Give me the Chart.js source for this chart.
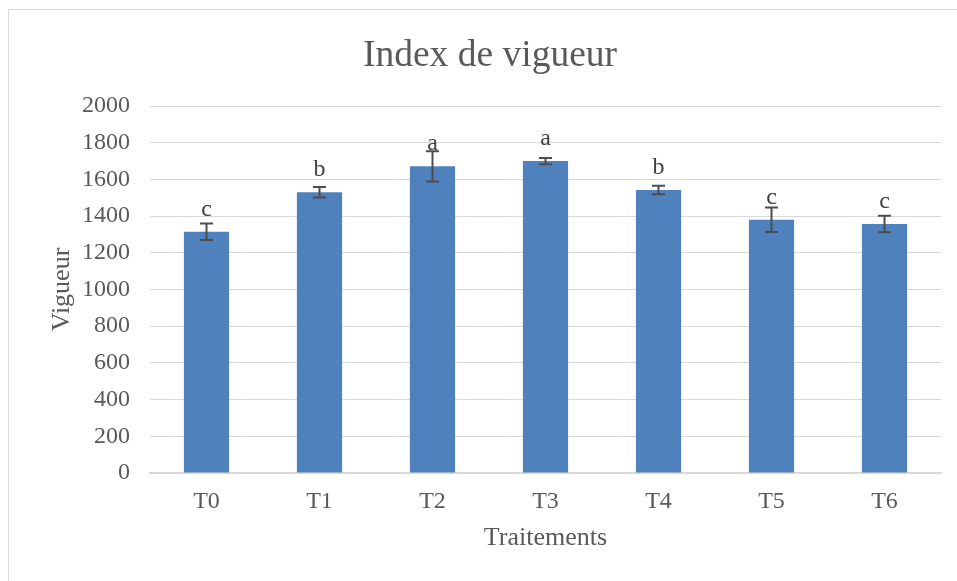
<!DOCTYPE html>
<html>
<head>
<meta charset="utf-8">
<script src="https://cdn.jsdelivr.net/npm/chart.js@4/dist/chart.umd.min.js"></script>
<style>
    html, body { margin: 0; padding: 0; background: #fff; overflow: hidden; }
    #wrap { position: relative; width: 957px; height: 581px; }
    #frame { position: absolute; left: 8px; top: 9px; width: 980px; height: 620px; border: 1px solid #d9d9d9; box-sizing: border-box; }
    canvas { position: absolute; left: 0; top: 0; }
</style>
</head>
<body>
<div id="wrap">
    <div id="frame"></div>
    <canvas id="vigueurChart" width="957" height="581"></canvas>
</div>
<script>
// Data
const categories = ['T0', 'T1', 'T2', 'T3', 'T4', 'T5', 'T6'];
const vigueur = [1315, 1530, 1671, 1700, 1542, 1380, 1357];
const errors = [45, 28, 83, 17, 23, 67, 45];
const groups = ['c', 'b', 'a', 'a', 'b', 'c', 'c'];
const yTicks = [0, 200, 400, 600, 800, 1000, 1200, 1400, 1600, 1800, 2000];

const serif = '"Liberation Serif", "Times New Roman", serif';
const textColor = '#595959';

// Error bars + group letters drawn on top of the bars
const extrasPlugin = {
    id: 'extras',
    afterDatasetsDraw(chart) {
        const ctx = chart.ctx;
        const yScale = chart.scales.y;
        const meta = chart.getDatasetMeta(0);
        ctx.save();
        meta.data.forEach((bar, i) => {
            const x = bar.x;
            const yHi = yScale.getPixelForValue(vigueur[i] + errors[i]);
            const yLo = yScale.getPixelForValue(vigueur[i] - errors[i]);
            ctx.strokeStyle = '#4d4d4d';
            ctx.lineWidth = 2;
            ctx.beginPath();
            ctx.moveTo(x, yHi); ctx.lineTo(x, yLo);
            ctx.moveTo(x - 6.5, yHi); ctx.lineTo(x + 6.5, yHi);
            ctx.moveTo(x - 6.5, yLo); ctx.lineTo(x + 6.5, yLo);
            ctx.stroke();

            ctx.fillStyle = '#404040';
            ctx.font = '24px ' + serif;
            ctx.textAlign = 'center';
            ctx.textBaseline = 'alphabetic';
            ctx.fillText(groups[i], x, bar.y - 16);
        });
        ctx.restore();
    }
};

document.addEventListener('DOMContentLoaded', function() {
    const canvas = document.getElementById('vigueurChart');
    new Chart(canvas.getContext('2d'), {
        type: 'bar',
        data: {
            labels: categories,
            datasets: [{
                label: 'Vigueur',
                data: vigueur,
                backgroundColor: '#4f81bd',
                borderWidth: 0,
                categoryPercentage: 1,
                barPercentage: 0.4
            }]
        },
        options: {
            responsive: false,
            animation: false,
            layout: { padding: { left: 39, right: 16, top: 0, bottom: 0 } },
            plugins: {
                legend: { display: false },
                tooltip: { enabled: false },
                title: {
                    display: true,
                    text: 'Index de vigueur',
                    color: textColor,
                    font: { family: serif, size: 37.5, weight: 'normal' },
                    padding: { top: 34, bottom: 27 }
                }
            },
            scales: {
                x: {
                    afterFit: function(scale) { scale.height = 108; },
                    grid: { display: false, drawTicks: false },
                    border: { display: true, color: '#d9d9d9', width: 1.5 },
                    ticks: {
                        color: textColor,
                        padding: 14,
                        font: { family: serif, size: 24 }
                    },
                    title: {
                        display: true,
                        text: 'Traitements',
                        color: textColor,
                        font: { family: serif, size: 26 },
                        padding: { top: 6, bottom: 27 }
                    }
                },
                y: {
                    min: 0,
                    max: 2000,
                    afterFit: function(scale) { scale.width = 111; },
                    afterBuildTicks: function(scale) {
                        scale.ticks = yTicks.map(v => ({ value: v }));
                    },
                    grid: { color: '#d9d9d9', lineWidth: 1, drawTicks: false },
                    border: { display: false },
                    ticks: {
                        color: textColor,
                        padding: 20,
                        font: { family: serif, size: 24 },
                        callback: function(value) { return String(value); }
                    },
                    title: {
                        display: true,
                        text: 'Vigueur',
                        color: textColor,
                        font: { family: serif, size: 26 },
                        padding: { top: 8, bottom: 0 }
                    }
                }
            }
        },
        plugins: [extrasPlugin]
    });
});
</script>
</body>
</html>
